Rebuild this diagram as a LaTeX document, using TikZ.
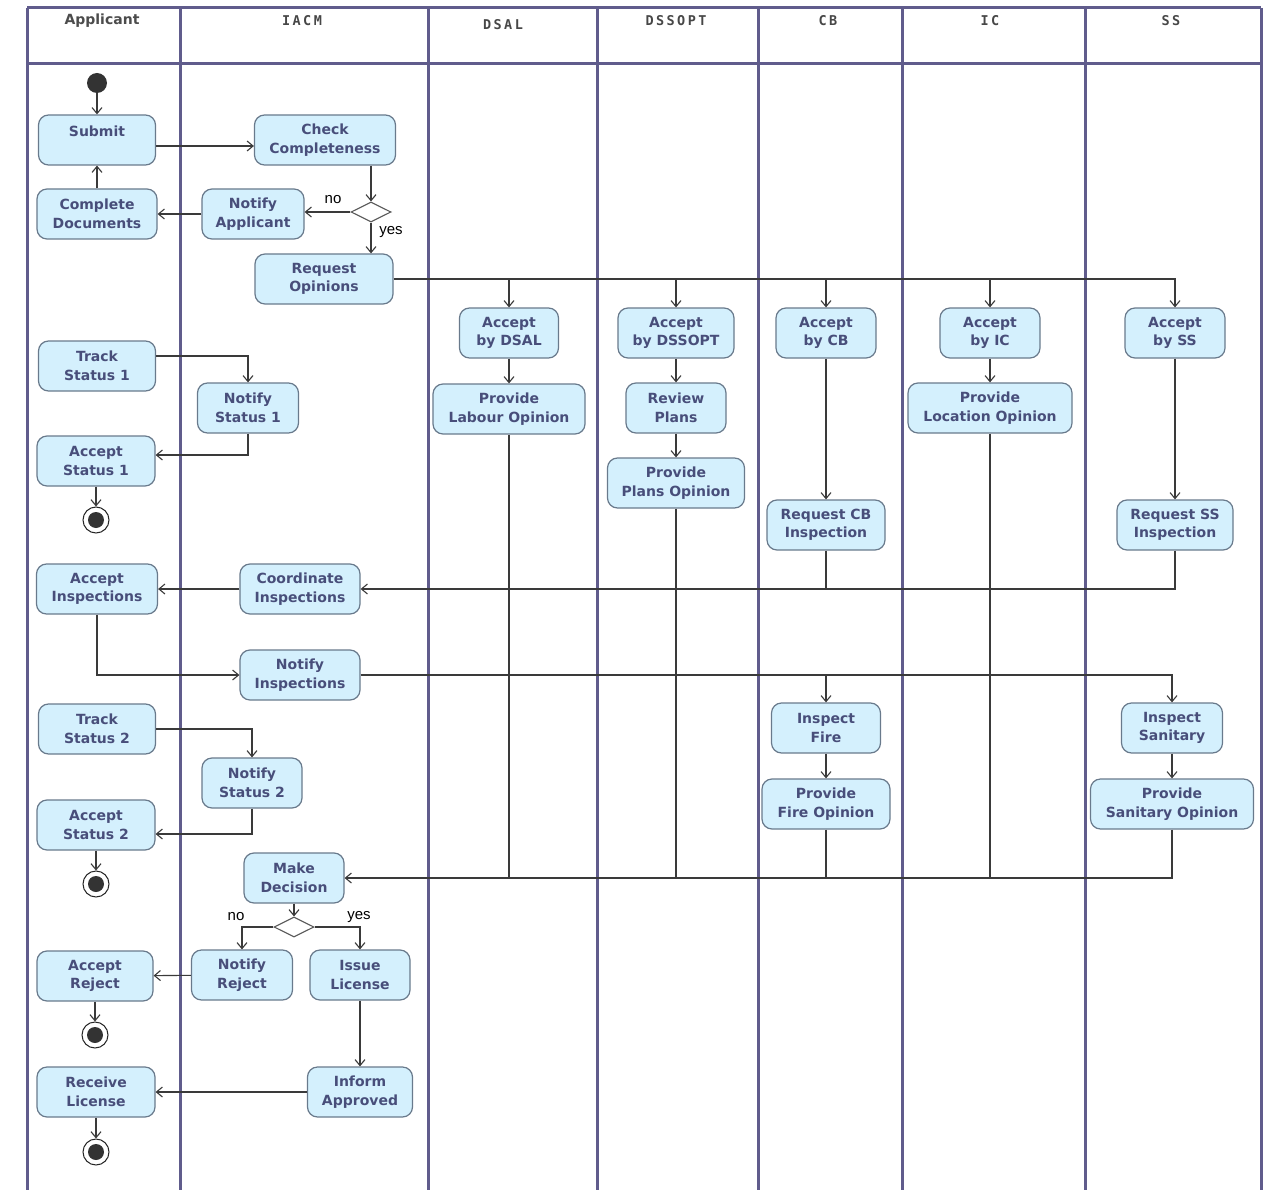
\documentclass[tikz,border=0pt]{standalone}
\usepackage{fontspec}
\usepackage{xcolor}
\usetikzlibrary{shapes.geometric,arrows.meta}
\setmainfont{DejaVu Sans}
\newfontfamily\lanefont{DejaVu Sans Mono}[LetterSpace=18]
\newfontfamily\guardfont{Liberation Sans}
\definecolor{lanecol}{RGB}{96,92,140}
\definecolor{actfill}{RGB}{212,240,253}
\definecolor{actline}{RGB}{105,122,140}
\definecolor{acttext}{RGB}{72,78,122}
\definecolor{flowcol}{RGB}{58,58,58}

\begin{document}
\begin{tikzpicture}[x=1pt,y=-1pt,
	act/.style={draw=actline,fill=actfill,line width=1.2pt,rounded corners=10pt,
		minimum height=50pt,inner sep=2pt,align=center,text=acttext,
		font=\fontsize{14}{18.5}\selectfont\bfseries},
	dec/.style={diamond,draw=flowcol!85,line width=1.1pt,fill=white,
		minimum width=40pt,minimum height=20pt,inner sep=0pt},
	startdot/.style={circle,fill=black!80,minimum size=20pt,inner sep=0pt},
	enddot/.style={circle,draw=black!85,line width=1pt,fill=white,minimum size=26pt,inner sep=0pt,
		path picture={\fill[black!80] (path picture bounding box.center) circle (8pt);}},
	flow/.style={draw=flowcol,line width=1.1pt,-{Straight Barb[length=6pt,width=10pt]}},
	link/.style={draw=flowcol,line width=1.1pt},
	lane/.style={draw=lanecol,line width=3pt},
	head/.style={text=black!70,font=\fontsize{14}{16}\selectfont\bfseries},
	monohead/.style={text=black!72,font=\lanefont\fontsize{13.5}{15}\selectfont\bfseries},
	guard/.style={text=black,font=\guardfont\fontsize{15}{17}\selectfont}]
	\useasboundingbox (0,0) rectangle (1282,1198);
	% swimlanes
	\draw[lane] (27,8) -- (1261,8);
	\draw[lane] (27,64) -- (1261,64);
	\foreach \lx in {27,180,428,597,758,902,1085,1261}
		\draw[lane] (\lx,8) -- (\lx,1190);
	\node[head] (hApp) at (102,21) {Applicant};
	\node[monohead] (hIacm) at (302,21) {IACM};
	\node[monohead] (hDsal) at (503,25) {DSAL};
	\node[monohead] (hDssopt) at (676,21) {DSSOPT};
	\node[monohead] (hCb) at (828,21) {CB};
	\node[monohead] (hIc) at (990,21) {IC};
	\node[monohead] (hSs) at (1171,21) {SS};
	% Applicant
	\node[startdot] (start) at (97,83) {};
	\node[act,minimum width=117pt] (submit) at (97,140) {Submit\\~};
	\node[act,minimum width=120pt] (compdoc) at (97,214) {Complete\\Documents};
	\node[act,minimum width=117pt] (ts1) at (97,366) {Track\\Status 1};
	\node[act,minimum width=118pt] (as1) at (96,461) {Accept\\Status 1};
	\node[enddot] (fin1) at (96,520) {};
	\node[act,minimum width=121pt] (ainsp) at (97,589) {Accept\\Inspections};
	\node[act,minimum width=117pt] (ts2) at (97,729) {Track\\Status 2};
	\node[act,minimum width=118pt] (as2) at (96,825) {Accept\\Status 2};
	\node[enddot] (fin2) at (96,884) {};
	\node[act,minimum width=116pt] (arej) at (95,976) {Accept\\Reject};
	\node[enddot] (fin3) at (95,1035) {};
	\node[act,minimum width=118pt] (rlic) at (96,1092) {Receive\\License};
	\node[enddot] (fin4) at (96,1152) {};
	% IACM
	\node[act,minimum width=141pt] (check) at (325,140) {Check\\Completeness};
	\node[act,minimum width=102pt] (notapp) at (253,214) {Notify\\Applicant};
	\node[dec] (dia1) at (371,212) {};
	\node[act,minimum width=138pt] (reqop) at (324,279) {Request\\Opinions};
	\node[act,minimum width=101pt] (ns1) at (248,408) {Notify\\Status 1};
	\node[act,minimum width=120pt] (coord) at (300,589) {Coordinate\\Inspections};
	\node[act,minimum width=120pt] (ninsp) at (300,675) {Notify\\Inspections};
	\node[act,minimum width=100pt] (ns2) at (252,783) {Notify\\Status 2};
	\node[act,minimum width=100pt] (md) at (294,878) {Make\\Decision};
	\node[dec] (dia2) at (294,927) {};
	\node[act,minimum width=101pt] (nrej) at (242,975) {Notify\\Reject};
	\node[act,minimum width=100pt] (ilic) at (360,975) {Issue\\License};
	\node[act,minimum width=105pt] (iapp) at (360,1092) {Inform\\Approved};
	\node[guard] (gno1) at (333,200) {no};
	\node[guard] (gyes1) at (391,232) {yes};
	\node[guard] (gno2) at (236,917) {no};
	\node[guard] (gyes2) at (359,917) {yes};
	% DSAL, DSSOPT
	\node[act,minimum width=99pt] (accdsal) at (509,333) {Accept\\by DSAL};
	\node[act,minimum width=152pt] (labour) at (509,409) {Provide\\Labour Opinion};
	\node[act,minimum width=116pt] (accdssopt) at (676,333) {Accept\\by DSSOPT};
	\node[act,minimum width=100pt] (review) at (676,408) {Review\\Plans};
	\node[act,minimum width=137pt] (plansop) at (676,483) {Provide\\Plans Opinion};
	% CB, IC, SS
	\node[act,minimum width=100pt] (acccb) at (826,333) {Accept\\by CB};
	\node[act,minimum width=118pt] (reqcb) at (826,525) {Request CB\\Inspection};
	\node[act,minimum width=109pt] (inspfire) at (826,728) {Inspect\\Fire};
	\node[act,minimum width=128pt] (fireop) at (826,804) {Provide\\Fire Opinion};
	\node[act,minimum width=100pt] (accic) at (990,333) {Accept\\by IC};
	\node[act,minimum width=164pt] (locop) at (990,408) {Provide\\Location Opinion};
	\node[act,minimum width=100pt] (accss) at (1175,333) {Accept\\by SS};
	\node[act,minimum width=116pt] (reqss) at (1175,525) {Request SS\\Inspection};
	\node[act,minimum width=101pt] (inspsan) at (1172,728) {Inspect\\Sanitary};
	\node[act,minimum width=163pt] (sanop) at (1172,804) {Provide\\Sanitary Opinion};

	% flows
	\draw[flow] (start) -- (submit);
	\draw[flow] ([yshift=-6pt]submit.east) -- ([yshift=-6pt]check.west);
	\draw[flow] (check.south -| dia1.north) -- (dia1.north);
	\draw[flow] (dia1.west) -- (dia1.west -| notapp.east);
	\draw[flow] (dia1.south) -- (dia1.south |- reqop.north);
	\draw[flow] (notapp) -- (compdoc);
	\draw[flow] (compdoc) -- (submit);
	\draw[flow] (reqop.east) -| (accss.north);
	\foreach \n in {accdsal,accdssopt,acccb,accic}
		\draw[flow] (reqop.east -| \n.north) -- (\n.north);
	\draw[flow] (accdsal) -- (labour);
	\draw[flow] (accdssopt) -- (review);
	\draw[flow] (review) -- (plansop);
	\draw[flow] (acccb) -- (reqcb);
	\draw[flow] (accic) -- (locop);
	\draw[flow] (accss) -- (reqss);
	\draw[flow] ([yshift=10pt]ts1.east) -| (ns1.north);
	\draw[flow] (ns1.south) |- ([yshift=6pt]as1.east);
	\draw[flow] (as1) -- (fin1);
	\draw[link] (reqcb.south) -- (reqcb.south |- coord.east);
	\draw[flow] (reqss.south) |- (coord.east);
	\draw[flow] (coord) -- (ainsp);
	\draw[flow] (ainsp.south) |- (ninsp.west);
	\draw[flow] (ninsp.east) -| (inspsan.north);
	\draw[flow] (ninsp.east -| inspfire.north) -- (inspfire.north);
	\draw[flow] (inspfire) -- (fireop);
	\draw[flow] (inspsan) -- (sanop);
	\draw[flow] (ts2.east) -| (ns2.north);
	\draw[flow] (ns2.south) |- ([yshift=-9pt]as2.east);
	\draw[flow] (as2) -- (fin2);
	\draw[flow] (sanop.south) |- (md.east);
	\foreach \n in {labour,plansop,fireop,locop}
		\draw[link] (\n.south) -- (\n.south |- md.east);
	\draw[flow] (md) -- (dia2);
	\draw[flow] (dia2.west) -| (nrej.north);
	\draw[flow] (dia2.east) -| (ilic.north);
	\draw[flow] (nrej) -- (arej);
	\draw[flow] (arej) -- (fin3);
	\draw[flow] (ilic) -- (iapp);
	\draw[flow] (iapp) -- (rlic);
	\draw[flow] (rlic) -- (fin4);
\end{tikzpicture}
\end{document}
